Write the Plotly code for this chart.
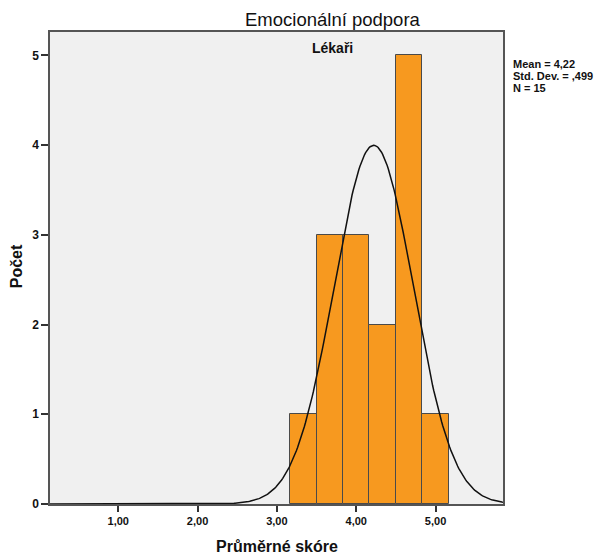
import numpy as np
import plotly.graph_objects as go

# Data
bin_centers = [3.3333, 3.6667, 4.0, 4.3333, 4.6667, 5.0]
counts = [1, 3, 3, 2, 5, 1]
bin_width = 1/3
mean_val = 4.22
sd_val = 0.499
n_val = 15
x_tickvals = [1, 2, 3, 4, 5]
x_ticktext = ["1,00", "2,00", "3,00", "4,00", "5,00"]
y_tickvals = [0, 1, 2, 3, 4, 5]
stats_lines = ["Mean = 4,22", "Std. Dev. = ,499", "N = 15"]

# normal curve fitted from the reported statistics
xs = np.linspace(0.14, 5.85, 400)
ys = n_val * bin_width / (sd_val * np.sqrt(2 * np.pi)) * np.exp(-0.5 * ((xs - mean_val) / sd_val) ** 2)

FONT = "Arial, Liberation Sans, sans-serif"

fig = go.Figure()
fig.add_trace(go.Bar(
    x=bin_centers, y=counts, width=bin_width,
    marker=dict(color="#F7991F", line=dict(color="#4a4a4a", width=1)),
    showlegend=False, hoverinfo="skip"))
fig.add_trace(go.Scatter(
    x=xs, y=ys, mode="lines", line=dict(color="#111111", width=1.5),
    showlegend=False, hoverinfo="skip"))

fig.update_layout(
    width=598, height=556,
    margin=dict(l=50, r=95, t=32, b=52),
    paper_bgcolor="white", plot_bgcolor="#F0F0F0",
    bargap=0,
    font=dict(family=FONT, color="#111111"),
    xaxis=dict(range=[0.14, 5.85], tickvals=x_tickvals, ticktext=x_ticktext,
               showgrid=False, zeroline=False, showline=True, mirror=True,
               linecolor="#555555", linewidth=1.5, ticks="outside", ticklen=6,
               tickcolor="#333333", tickwidth=1.5,
               tickfont=dict(family=FONT, size=11, color="#111111", weight="bold")),
    yaxis=dict(range=[0, 5.26], tickvals=y_tickvals,
               showgrid=False, zeroline=False, showline=True, mirror=True,
               linecolor="#555555", linewidth=1.5, ticks="outside", ticklen=7,
               tickcolor="#333333", tickwidth=1.5,
               tickfont=dict(family=FONT, size=12, color="#111111", weight="bold")),
)

ann = [
    dict(text="Emocionální podpora", x=0.625, y=1.026, font=dict(size=18.5)),
    dict(text="<b>Lékaři</b>", x=0.624, y=0.9667, font=dict(size=14)),
    dict(text="<b>Průměrné skóre</b>", x=0.5014, y=-0.0905, font=dict(size=16)),
    dict(text="<b>Počet</b>", x=-0.0736, y=0.503, font=dict(size=16), textangle=-90),
]
for a in ann:
    fig.add_annotation(xref="paper", yref="paper", showarrow=False,
                       xanchor="center", yanchor="middle", **a)

for i, line in enumerate(stats_lines):
    ypix = 64.0 + i * 12.0
    fig.add_annotation(xref="paper", yref="paper", showarrow=False,
                       x=1.018, y=(504.3 - ypix) / 472.0, xanchor="left", yanchor="middle",
                       text="<b>" + line + "</b>", font=dict(size=11, family=FONT))

fig.write_html("out.html")
